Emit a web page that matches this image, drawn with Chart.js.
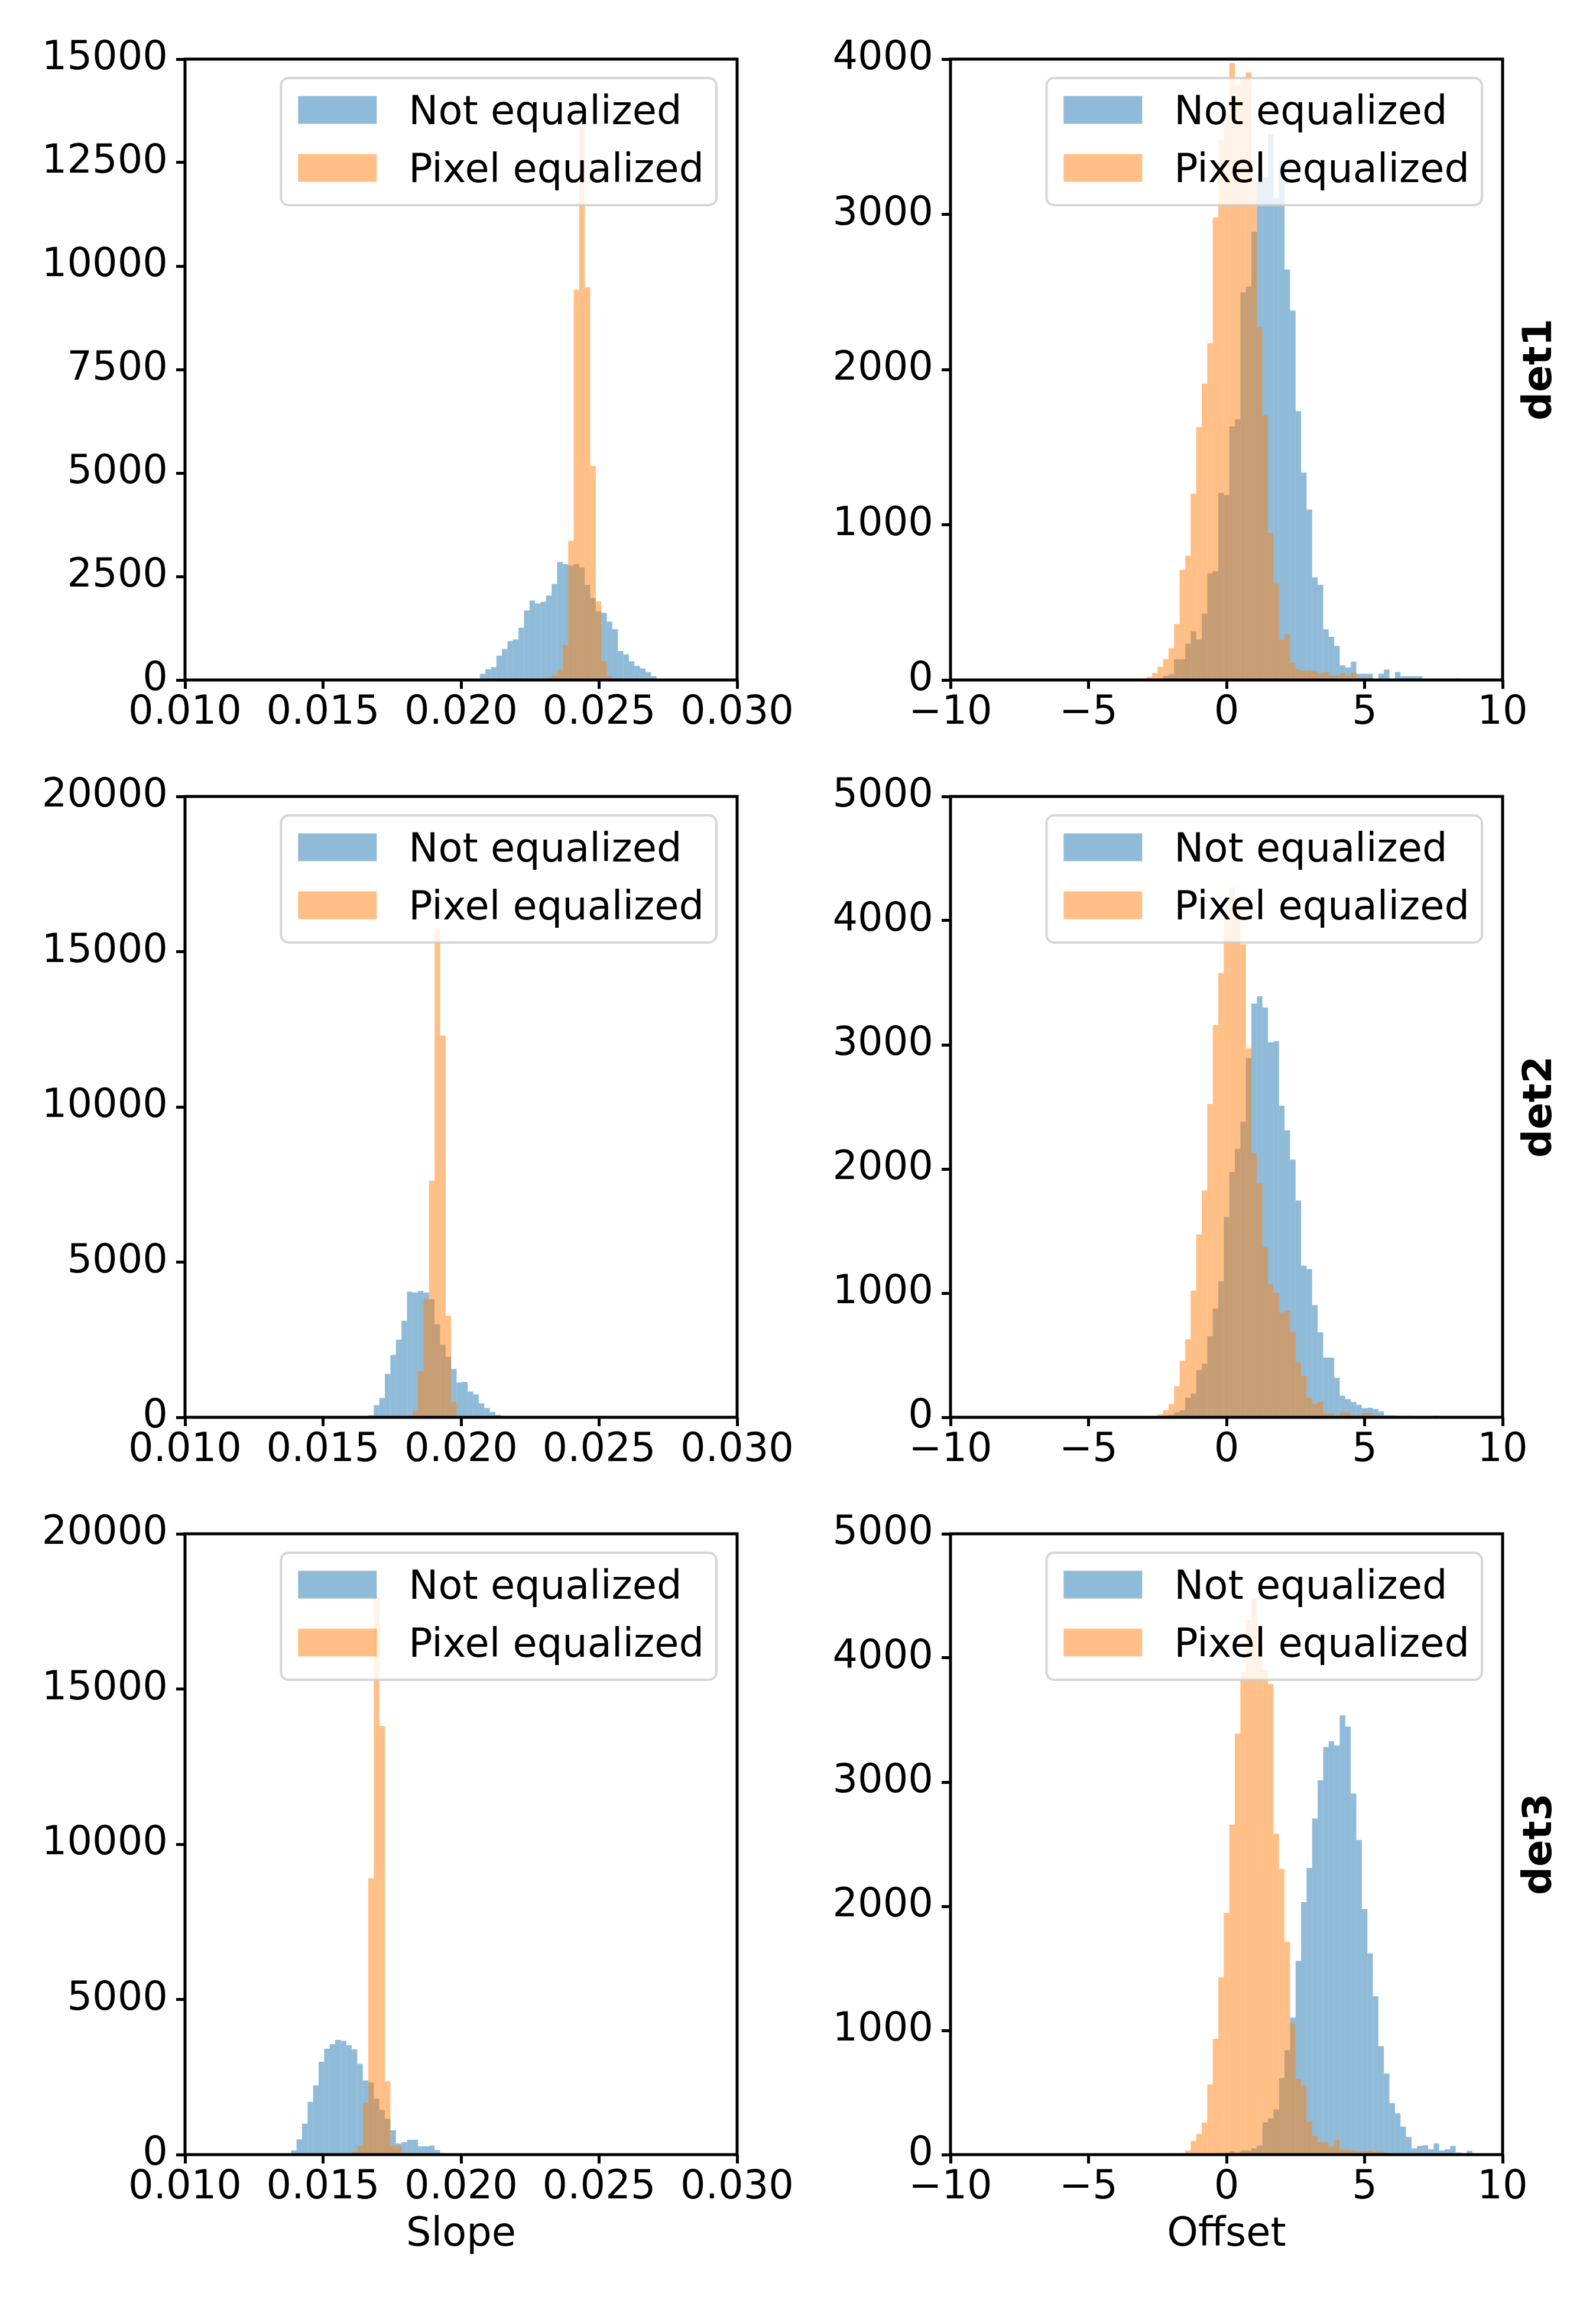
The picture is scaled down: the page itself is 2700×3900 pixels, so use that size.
<!DOCTYPE html>
<html lang="en">
<head>
<meta charset="UTF-8" />
<title>Slope / offset histograms</title>
<script src="https://cdn.jsdelivr.net/npm/chart.js@4"></script>
<style>
  body { margin: 0; background: #fff; }
  #fig { position: relative; width: 2700px; height: 3900px; background: #fff; }
  #fig canvas { position: absolute; }
</style>
</head>
<body>
<div id="fig"></div>
<script>
// histogram counts (one value per bin)
const seriesNames = ["Not equalized", "Pixel equalized"];
const detLabels = ["det1", "det2", "det3"];

const slopeBinWidth = 0.0002;
const offsetBinWidth = 0.2;

// first bin centre + counts
const det1SlopeNotEqFirst = 0.02058;
const det1SlopeNotEq = [30,150,260,310,590,750,940,980,1260,1680,1920,1850,1890,2040,2320,2850,2800,2760,2800,2720,2300,1980,1660,1620,1410,1230,700,620,450,340,280,190,90,30];
const det1SlopePixEqFirst = 0.02318;
const det1SlopePixEq = [50,120,260,840,3360,9430,13430,9490,5170,1900,450,90];

const det2SlopeNotEqFirst = 0.01674;
const det2SlopeNotEq = [66,390,620,1400,2010,2500,3110,4050,4020,4070,4020,3810,3000,2340,1945,1560,1120,1140,830,735,450,300,170,80,40,15];
const det2SlopePixEqFirst = 0.01834;
const det2SlopePixEq = [200,1485,3810,7620,15700,12300,3270,490,25];

const det3SlopeNotEqFirst = 0.01394;
const det3SlopeNotEq = [133,492,997,1700,2233,2990,3416,3562,3695,3668,3522,3389,2924,2392,2326,1807,1435,1156,784,359,399,478,478,266,266,292,146,53];
const det3SlopePixEqFirst = 0.01614;
const det3SlopePixEq = [93,279,1675,8904,17970,13808,2366,292,292,40];

const det1OffsetNotEqFirst = -3.2;
const det1OffsetNotEq = [5,5,0,0,10,27,37,134,134,233,313,260,428,688,701,1205,1191,1633,1679,2497,2535,2888,3262,3237,3516,3108,3346,2645,2380,1732,1336,1098,661,613,327,278,219,94,80,118,40,40,40,5,40,67,5,51,24,24,24,24,5,5,0,0,0,0,11];
const det1OffsetPixEqFirst = -3.2;
const det1OffsetPixEq = [10,10,20,45,85,135,205,360,710,800,1200,1630,1910,2170,2980,3480,3641,3975,3836,3881,3914,3207,2275,1705,948,620,260,295,112,67,60,60,55,45,50,30,30,45,30,50,15,15,15];

const det2OffsetNotEqFirst = -2.2;
const det2OffsetNotEq = [13,20,41,57,157,191,381,431,653,877,1094,1613,1976,2161,2381,2892,3332,3390,3300,3020,3030,2509,2312,2075,1745,1222,1194,904,686,481,481,318,174,147,123,100,73,77,67,47,16,16,13,5,5,5,5,5,5,13];
const det2OffsetPixEqFirst = -2.8;
const det2OffsetPixEq = [5,8,25,57,107,251,455,629,1020,1473,1827,2524,3157,3578,4027,4268,4150,3809,2973,2127,1885,1370,1071,1004,844,860,686,442,335,157,107,123,34,34,7,40,40,16,16,34,34,0,0,0,0,0,0,13];

const det3OffsetNotEqFirst = -0.8;
const det3OffsetNotEq = [5,5,5,10,15,27,17,33,33,50,73,259,292,365,615,840,1103,1561,2033,2309,2707,3016,3282,3329,3295,3538,3448,2907,2535,1977,1621,1276,874,654,415,332,226,143,50,70,76,43,90,33,43,70,17,10,30,10];
const det3OffsetPixEqFirst = -2.0;
const det3OffsetPixEq = [10,10,12,33,110,166,259,565,933,1428,1947,2658,3390,3888,4305,4475,4119,3899,3790,2585,2302,1714,1056,611,555,266,150,100,100,66,116,40,40,33,27,27,33,23,23,17,10];

// axis ticks
const slopeXTicks = [0.010, 0.015, 0.020, 0.025, 0.030];
const slopeXTickLabels = ["0.010", "0.015", "0.020", "0.025", "0.030"];
const offsetXTicks = [-10, -5, 0, 5, 10];
const offsetXTickLabels = ["\u221210", "\u22125", "0", "5", "10"];
const det1SlopeYTicks = [0, 2500, 5000, 7500, 10000, 12500, 15000];
const det1OffsetYTicks = [0, 1000, 2000, 3000, 4000];
const det23SlopeYTicks = [0, 5000, 10000, 15000, 20000];
const det23OffsetYTicks = [0, 1000, 2000, 3000, 4000, 5000];

const BLUE = "rgba(31,119,180,0.5)";
const ORANGE = "rgba(255,127,14,0.5)";
const FONT_SIZE = 67;

Chart.defaults.font.family = "'DejaVu Sans', sans-serif";
Chart.defaults.font.size = FONT_SIZE;
Chart.defaults.color = "#000";

function toBars(first, counts, width) {
    return counts.map((c, i) => ({ x: Math.round((first + i * width) * 1e7) / 1e7, y: c }));
}

// spines, legend box inside the axes, detector label on the right
const decoPlugin = {
    id: "deco",
    afterDatasetsDraw(chart, args, opts) {
        const ctx = chart.ctx;
        const a = chart.chartArea;
        ctx.save();
        ctx.lineWidth = 5;
        ctx.strokeStyle = "#000";
        ctx.strokeRect(a.left, a.top, a.right - a.left, a.bottom - a.top);

        ctx.font = FONT_SIZE + "px 'DejaVu Sans'";
        const textW = Math.max(...seriesNames.map(s => ctx.measureText(s).width));
        const w = 29 + 133 + 54 + textW + 21, h = 215;
        const x = a.right - 35 - w, y = a.top + 32;
        ctx.beginPath();
        ctx.roundRect(x, y, w, h, 13);
        ctx.fillStyle = "rgba(255,255,255,0.8)";
        ctx.fill();
        ctx.lineWidth = 4;
        ctx.strokeStyle = "rgba(204,204,204,0.8)";
        ctx.stroke();
        chart.data.datasets.forEach((ds, i) => {
            ctx.fillStyle = ds.backgroundColor;
            ctx.fillRect(x + 29, y + 54 + i * 98 - 23.5, 133, 47);
            ctx.fillStyle = "#000";
            ctx.textBaseline = "alphabetic";
            ctx.textAlign = "left";
            ctx.fillText(ds.label, x + 216, y + 77.5 + i * 98);
        });

        if (opts.label) {
            ctx.translate(a.right + 65, (a.top + a.bottom) / 2);
            ctx.rotate(-Math.PI / 2);
            ctx.font = "bold " + FONT_SIZE + "px 'DejaVu Sans'";
            ctx.textAlign = "center";
            ctx.textBaseline = "middle";
            ctx.fillText(opts.label, 0, 0);
        }
        ctx.restore();
    }
};

const panels = [
    { row: 0, col: 0, notEq: toBars(det1SlopeNotEqFirst, det1SlopeNotEq, slopeBinWidth), pixEq: toBars(det1SlopePixEqFirst, det1SlopePixEq, slopeBinWidth), yTicks: det1SlopeYTicks },
    { row: 0, col: 1, notEq: toBars(det1OffsetNotEqFirst, det1OffsetNotEq, offsetBinWidth), pixEq: toBars(det1OffsetPixEqFirst, det1OffsetPixEq, offsetBinWidth), yTicks: det1OffsetYTicks },
    { row: 1, col: 0, notEq: toBars(det2SlopeNotEqFirst, det2SlopeNotEq, slopeBinWidth), pixEq: toBars(det2SlopePixEqFirst, det2SlopePixEq, slopeBinWidth), yTicks: det23SlopeYTicks },
    { row: 1, col: 1, notEq: toBars(det2OffsetNotEqFirst, det2OffsetNotEq, offsetBinWidth), pixEq: toBars(det2OffsetPixEqFirst, det2OffsetPixEq, offsetBinWidth), yTicks: det23OffsetYTicks },
    { row: 2, col: 0, notEq: toBars(det3SlopeNotEqFirst, det3SlopeNotEq, slopeBinWidth), pixEq: toBars(det3SlopePixEqFirst, det3SlopePixEq, slopeBinWidth), yTicks: det23SlopeYTicks },
    { row: 2, col: 1, notEq: toBars(det3OffsetNotEqFirst, det3OffsetNotEq, offsetBinWidth), pixEq: toBars(det3OffsetPixEqFirst, det3OffsetPixEq, offsetBinWidth), yTicks: det23OffsetYTicks }
];

// axes boxes in page pixels
const colLeft = [313, 1608];
const rowTop = [100, 1347, 2594];
const AX_W = 934, AX_H = 1050;
const PAD_L = 260, PAD_T = 60, X_H = 200;

const fig = document.getElementById("fig");

panels.forEach(p => {
    const isSlope = p.col === 0;
    const xTicks = isSlope ? slopeXTicks : offsetXTicks;
    const xLabels = isSlope ? slopeXTickLabels : offsetXTickLabels;
    const padR = isSlope ? 130 : 140;
    const canvas = document.createElement("canvas");
    const cw = PAD_L + AX_W + padR, chh = PAD_T + AX_H + X_H;
    canvas.width = cw; canvas.height = chh;
    canvas.style.width = cw + "px"; canvas.style.height = chh + "px";
    canvas.style.left = (colLeft[p.col] - PAD_L) + "px";
    canvas.style.top = (rowTop[p.row] - PAD_T) + "px";
    fig.appendChild(canvas);

    const tickGrid = { display: true, drawOnChartArea: false, drawTicks: true, tickLength: 15, tickWidth: 5, tickColor: "#000", offset: false };

    new Chart(canvas, {
        type: "bar",
        data: {
            datasets: [
                { label: seriesNames[0], data: p.notEq, backgroundColor: BLUE, order: 1 },
                { label: seriesNames[1], data: p.pixEq, backgroundColor: ORANGE, order: 0 }
            ]
        },
        plugins: [decoPlugin],
        options: {
            responsive: false,
            animation: false,
            devicePixelRatio: 1,
            layout: { autoPadding: false, padding: { left: 0, top: PAD_T, right: padR, bottom: 0 } },
            datasets: { bar: { grouped: false, barPercentage: 1, categoryPercentage: 1, borderWidth: 0, inflateAmount: 0 } },
            plugins: {
                legend: { display: false },
                tooltip: { enabled: false },
                deco: { label: p.col === 1 ? detLabels[p.row] : null }
            },
            scales: {
                x: {
                    type: "linear",
                    min: xTicks[0],
                    max: xTicks[xTicks.length - 1],
                    offset: false,
                    afterBuildTicks: s => { s.ticks = xTicks.map(v => ({ value: v })); },
                    afterFit: s => { s.height = X_H; },
                    ticks: { callback: (v, i) => xLabels[i], padding: 1, maxRotation: 0, minRotation: 0, autoSkip: false },
                    grid: tickGrid,
                    border: { display: false },
                    title: {
                        display: p.row === 2,
                        text: isSlope ? "Slope" : "Offset",
                        padding: { top: 0, bottom: 23 }
                    }
                },
                y: {
                    min: 0,
                    max: p.yTicks[p.yTicks.length - 1],
                    afterBuildTicks: s => { s.ticks = p.yTicks.map(v => ({ value: v })); },
                    afterFit: s => { s.width = PAD_L; },
                    ticks: { callback: v => String(v), padding: 14, autoSkip: false },
                    grid: tickGrid,
                    border: { display: false }
                }
            }
        }
    });
});
</script>
</body>
</html>
